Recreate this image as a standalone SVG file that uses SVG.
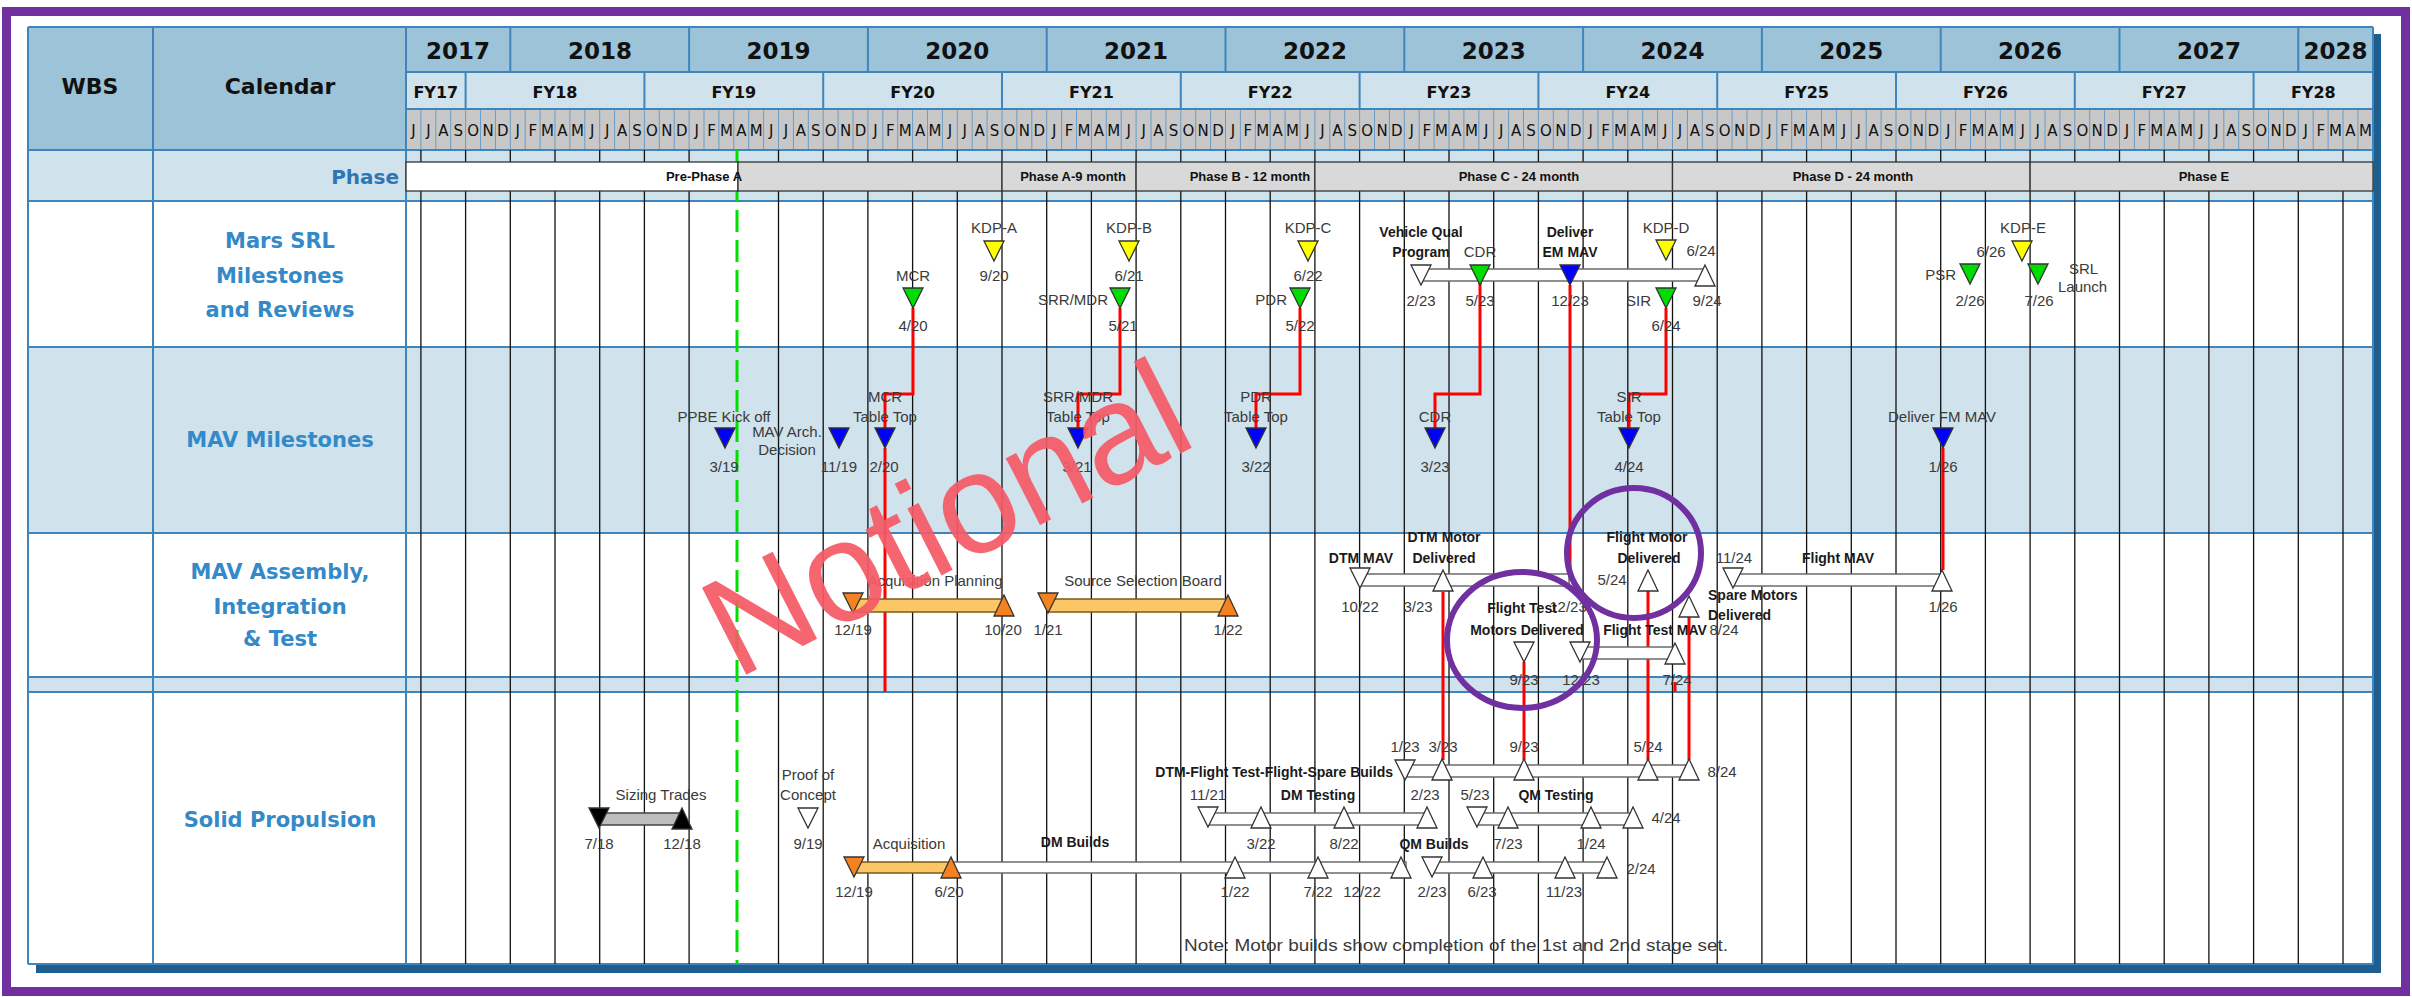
<svg xmlns="http://www.w3.org/2000/svg" width="2412" height="997" viewBox="0 0 2412 997">
<defs>
<style>
text{font-family:"Liberation Sans",Arial,sans-serif}
.h{font-family:"DejaVu Sans",sans-serif;font-weight:bold;fill:#111;text-anchor:middle}
.yr{font-size:23px}
.fy{font-size:16px}
.wb{font-size:22px}
.mo{font-family:"DejaVu Sans",sans-serif;font-size:15px;fill:#111;text-anchor:middle}
.rl{font-family:"DejaVu Sans",sans-serif;font-weight:bold;font-size:21px;fill:#3489C8;text-anchor:middle}
.phl{font-family:"DejaVu Sans",sans-serif;font-weight:bold;font-size:20px;fill:#2E75B6;text-anchor:end}
.pt{font-weight:bold;font-size:13px;fill:#111;text-anchor:middle}
.l{font-size:15px;fill:#3a3a3a;text-anchor:middle}
.b{font-weight:bold;font-size:14px;fill:#1a1a1a;text-anchor:middle}
.e{text-anchor:end}
.s{text-anchor:start}
.grid{stroke:#111;stroke-width:1.3;fill:none}
.sep{stroke:#6A9CC6;stroke-width:1;fill:none}
.bd{stroke:#3F85BC;stroke-width:2;fill:none}
.red{stroke:#FF0000;stroke-width:3;fill:none}
.bar{fill:#fff;stroke:#6b6b6b;stroke-width:1.5}
.obar{fill:#FBC766;stroke:#7a5a1a;stroke-width:1.5}
.gbar{fill:#BDBDBD;stroke:#444;stroke-width:1.5}
.tri{stroke:#333;stroke-width:1.3}
.w{fill:#fff}
.y{fill:#FFFF00}
.g{fill:#00DD00}
.bl{fill:#0000FF}
.o{fill:#F58220}
.k{fill:#000}
.circ{fill:none;stroke:#7030A0;stroke-width:6}
.ph{stroke:#333;stroke-width:1.3}
</style>
<path id="dn" d="M-10,0H10L0,20Z"/>
<path id="up" d="M0,0L10,21H-10Z"/>
</defs>

<rect width="2412" height="997" fill="#fff"/>

<g id="table">
<rect x="36" y="964" width="2345" height="9" fill="#1F5F8F"/>
<rect x="2373" y="34" width="8" height="939" fill="#1F5F8F"/>
<rect x="28" y="27" width="378" height="123" fill="#9DC3D9"/>
<rect x="406" y="27" width="1967" height="45" fill="#9DC3D9"/>
<rect x="406" y="72" width="1967" height="37" fill="#D0E2EC"/>
<rect x="406" y="109" width="1967" height="41" fill="#C8C8C8"/>
<rect x="28" y="150" width="2345" height="51" fill="#D0E2EC"/>
<rect x="28" y="201" width="2345" height="146" fill="#fff"/>
<rect x="28" y="347" width="2345" height="186" fill="#D0E2EC"/>
<rect x="28" y="533" width="2345" height="144" fill="#fff"/>
<rect x="28" y="677" width="2345" height="15" fill="#D0E2EC"/>
<rect x="28" y="692" width="2345" height="272" fill="#fff"/>
<path class="sep" d="M420.9 109V150M435.8 109V150M450.7 109V150M465.6 109V150M480.5 109V150M495.4 109V150M510.3 109V150M525.2 109V150M540.1 109V150M555 109V150M569.9 109V150M584.8 109V150M599.7 109V150M614.6 109V150M629.5 109V150M644.4 109V150M659.3 109V150M674.2 109V150M689.1 109V150M704 109V150M718.9 109V150M733.8 109V150M748.7 109V150M763.6 109V150M778.5 109V150M793.4 109V150M808.3 109V150M823.2 109V150M838.1 109V150M853 109V150M867.9 109V150M882.8 109V150M897.7 109V150M912.6 109V150M927.5 109V150M942.4 109V150M957.3 109V150M972.2 109V150M987.1 109V150M1002 109V150M1016.9 109V150M1031.8 109V150M1046.7 109V150M1061.6 109V150M1076.5 109V150M1091.4 109V150M1106.3 109V150M1121.2 109V150M1136.1 109V150M1151 109V150M1165.9 109V150M1180.8 109V150M1195.7 109V150M1210.6 109V150M1225.5 109V150M1240.4 109V150M1255.3 109V150M1270.2 109V150M1285.1 109V150M1300 109V150M1314.9 109V150M1329.8 109V150M1344.7 109V150M1359.6 109V150M1374.5 109V150M1389.4 109V150M1404.3 109V150M1419.2 109V150M1434.1 109V150M1449 109V150M1463.9 109V150M1478.8 109V150M1493.7 109V150M1508.6 109V150M1523.5 109V150M1538.4 109V150M1553.3 109V150M1568.2 109V150M1583.1 109V150M1598 109V150M1612.9 109V150M1627.8 109V150M1642.7 109V150M1657.6 109V150M1672.5 109V150M1687.4 109V150M1702.3 109V150M1717.2 109V150M1732.1 109V150M1747 109V150M1761.9 109V150M1776.8 109V150M1791.7 109V150M1806.6 109V150M1821.5 109V150M1836.4 109V150M1851.3 109V150M1866.2 109V150M1881.1 109V150M1896 109V150M1910.9 109V150M1925.8 109V150M1940.7 109V150M1955.6 109V150M1970.5 109V150M1985.4 109V150M2000.3 109V150M2015.2 109V150M2030.1 109V150M2045 109V150M2059.9 109V150M2074.8 109V150M2089.7 109V150M2104.6 109V150M2119.5 109V150M2134.4 109V150M2149.3 109V150M2164.2 109V150M2179.1 109V150M2194 109V150M2208.9 109V150M2223.8 109V150M2238.7 109V150M2253.6 109V150M2268.5 109V150M2283.4 109V150M2298.3 109V150M2313.2 109V150M2328.1 109V150M2343 109V150M2357.9 109V150"/>
<path class="bd" d="M28 27H2373M406 72H2373M406 109H2373M28 150H2373M28 201H2373M28 347H2373M28 533H2373M28 677H2373M28 692H2373M28 964H2373M28 27V964M153 27V964M406 27V964M2373 27V964M510.3 27V72M689.1 27V72M867.9 27V72M1046.7 27V72M1225.5 27V72M1404.3 27V72M1583.1 27V72M1761.9 27V72M1940.7 27V72M2119.5 27V72M2298.3 27V72M465.6 72V109M644.4 72V109M823.2 72V109M1002 72V109M1180.8 72V109M1359.6 72V109M1538.4 72V109M1717.2 72V109M1896 72V109M2074.8 72V109M2253.6 72V109"/>
<text class="h wb" x="90" y="94">WBS</text>
<text class="h wb" x="280" y="94">Calendar</text>
<text class="h yr" x="458" y="59">2017</text>
<text class="h yr" x="600" y="59">2018</text>
<text class="h yr" x="778.5" y="59">2019</text>
<text class="h yr" x="957.3" y="59">2020</text>
<text class="h yr" x="1136.1" y="59">2021</text>
<text class="h yr" x="1314.9" y="59">2022</text>
<text class="h yr" x="1493.7" y="59">2023</text>
<text class="h yr" x="1672.5" y="59">2024</text>
<text class="h yr" x="1851.3" y="59">2025</text>
<text class="h yr" x="2030.1" y="59">2026</text>
<text class="h yr" x="2208.9" y="59">2027</text>
<text class="h yr" x="2335.6" y="59">2028</text>
<text class="h fy" x="435.8" y="98">FY17</text>
<text class="h fy" x="555" y="98">FY18</text>
<text class="h fy" x="733.8" y="98">FY19</text>
<text class="h fy" x="912.6" y="98">FY20</text>
<text class="h fy" x="1091.4" y="98">FY21</text>
<text class="h fy" x="1270.2" y="98">FY22</text>
<text class="h fy" x="1449" y="98">FY23</text>
<text class="h fy" x="1627.8" y="98">FY24</text>
<text class="h fy" x="1806.6" y="98">FY25</text>
<text class="h fy" x="1985.4" y="98">FY26</text>
<text class="h fy" x="2164.2" y="98">FY27</text>
<text class="h fy" x="2313.3" y="98">FY28</text>
<text class="mo" y="136" x="413.5 428.4 443.3 458.2 473.1 488 502.9 517.8 532.7 547.6 562.5 577.4 592.3 607.2 622.1 637 651.9 666.8 681.7 696.6 711.5 726.4 741.3 756.2 771.1 786 800.9 815.8 830.7 845.6 860.5 875.4 890.3 905.2 920.1 935 949.9 964.8 979.7 994.6 1009.5 1024.4 1039.3 1054.2 1069.1 1084 1098.9 1113.8 1128.7 1143.6 1158.5 1173.4 1188.3 1203.2 1218.1 1233 1247.9 1262.8 1277.7 1292.6 1307.5 1322.4 1337.3 1352.2 1367.1 1382 1396.9 1411.8 1426.7 1441.6 1456.5 1471.4 1486.3 1501.2 1516.1 1531 1545.9 1560.8 1575.7 1590.6 1605.5 1620.4 1635.3 1650.2 1665.1 1680 1694.9 1709.8 1724.7 1739.6 1754.5 1769.4 1784.3 1799.2 1814.1 1829 1843.9 1858.8 1873.7 1888.6 1903.5 1918.4 1933.3 1948.2 1963.1 1978 1992.9 2007.8 2022.7 2037.6 2052.5 2067.4 2082.3 2097.2 2112.1 2127 2141.9 2156.8 2171.7 2186.6 2201.5 2216.4 2231.3 2246.2 2261.1 2276 2290.9 2305.8 2320.7 2335.6 2350.5 2365.4">JJASOND<tspan>JFMAMJJASOND</tspan><tspan>JFMAMJJASOND</tspan><tspan>JFMAMJJASOND</tspan><tspan>JFMAMJJASOND</tspan><tspan>JFMAMJJASOND</tspan><tspan>JFMAMJJASOND</tspan><tspan>JFMAMJJASOND</tspan><tspan>JFMAMJJASOND</tspan><tspan>JFMAMJJASOND</tspan><tspan>JFMAMJJASOND</tspan>JFMAM</text>
<text class="phl" x="399" y="184">Phase</text>
<text class="rl" x="280" y="248">Mars SRL</text>
<text class="rl" x="280" y="283">Milestones</text>
<text class="rl" x="280" y="317">and Reviews</text>
<text class="rl" x="280" y="447">MAV Milestones</text>
<text class="rl" x="280" y="579">MAV Assembly,</text>
<text class="rl" x="280" y="614">Integration</text>
<text class="rl" x="280" y="646">&amp; Test</text>
<text class="rl" x="280" y="827">Solid Propulsion</text>
<path class="grid" d="M420.9 150V964M465.6 150V964M510.3 150V964M555 150V964M599.7 150V964M644.4 150V964M689.1 150V964M778.5 150V964M823.2 150V964M867.9 150V964M912.6 150V964M957.3 150V964M1002 150V964M1046.7 150V964M1091.4 150V964M1136.1 150V964M1180.8 150V964M1225.5 150V964M1270.2 150V964M1314.9 150V964M1359.6 150V964M1404.3 150V964M1449 150V964M1493.7 150V964M1538.4 150V964M1583.1 150V964M1627.8 150V964M1672.5 150V964M1717.2 150V964M1761.9 150V964M1806.6 150V964M1851.3 150V964M1896 150V964M1940.7 150V964M1985.4 150V964M2030.1 150V964M2074.8 150V964M2119.5 150V964M2164.2 150V964M2208.9 150V964M2253.6 150V964M2298.3 150V964M2343 150V964"/>
<line x1="737" y1="150" x2="737" y2="964" stroke="#00E000" stroke-width="3" stroke-dasharray="22 8"/>
</g>

<g id="phases">
<rect class="ph" x="406" y="162" width="332" height="29" fill="#fff"/>
<rect class="ph" x="738" y="162" width="264" height="29" fill="#D9D9D9"/>
<rect class="ph" x="1002" y="162" width="134.1" height="29" fill="#D9D9D9"/>
<rect class="ph" x="1136.1" y="162" width="178.8" height="29" fill="#D9D9D9"/>
<rect class="ph" x="1314.9" y="162" width="357.6" height="29" fill="#D9D9D9"/>
<rect class="ph" x="1672.5" y="162" width="357.6" height="29" fill="#D9D9D9"/>
<rect class="ph" x="2030.1" y="162" width="342.9" height="29" fill="#D9D9D9"/>
<text class="pt" x="704" y="181">Pre-Phase A</text>
<text class="pt" x="1073" y="181">Phase A-9 month</text>
<text class="pt" x="1250" y="181">Phase B - 12 month</text>
<text class="pt" x="1519" y="181">Phase C - 24 month</text>
<text class="pt" x="1853" y="181">Phase D - 24 month</text>
<text class="pt" x="2204" y="181">Phase E</text>
</g>

<g id="connectors">
<path class="red" d="M913 308V394H885V428"/>
<path class="red" d="M885 448V692"/>
<path class="red" d="M1120 308V394H1078V428"/>
<path class="red" d="M1300 308V394H1256V428"/>
<path class="red" d="M1480 283V394H1435V428"/>
<path class="red" d="M1570 285V580"/>
<path class="red" d="M1666 308V394H1629V428"/>
<path class="red" d="M1943 448V570"/>
<path class="red" d="M1443 760V592"/>
<path class="red" d="M1524 760V662"/>
<path class="red" d="M1648 760V591"/>
<path class="red" d="M1689 760V617"/>
<path class="red" d="M1675 682V692"/>
</g>

<g id="mars-srl">
<g id="kdp-a"><text class="l" x="994" y="233">KDP-A</text><use href="#dn" x="994" y="241" class="tri y"/><text class="l" x="994" y="281">9/20</text></g>
<g id="mcr"><text class="l" x="913" y="281">MCR</text><use href="#dn" x="913" y="288" class="tri g"/><text class="l" x="913" y="331">4/20</text></g>
<g id="kdp-b"><text class="l" x="1129" y="233">KDP-B</text><use href="#dn" x="1129" y="241" class="tri y"/><text class="l" x="1129" y="281">6/21</text></g>
<g id="srr-mdr"><text class="l e" x="1108" y="305">SRR/MDR</text><use href="#dn" x="1120" y="288" class="tri g"/><text class="l" x="1123" y="331">5/21</text></g>
<g id="kdp-c"><text class="l" x="1308" y="233">KDP-C</text><use href="#dn" x="1308" y="241" class="tri y"/><text class="l" x="1308" y="281">6/22</text></g>
<g id="pdr"><text class="l e" x="1287" y="305">PDR</text><use href="#dn" x="1300" y="288" class="tri g"/><text class="l" x="1300" y="331">5/22</text></g>
<g id="vehicle-qual"><text class="b" x="1421" y="237">Vehicle Qual</text><text class="b" x="1421" y="257">Program</text><rect class="bar" x="1421" y="269" width="284" height="12"/><use href="#dn" x="1421" y="265" class="tri w"/><use href="#up" x="1705" y="265" class="tri w"/><text class="l" x="1421" y="306">2/23</text><text class="l" x="1707" y="306">9/24</text></g>
<g id="cdr"><text class="l" x="1480" y="257">CDR</text><use href="#dn" x="1480" y="265" class="tri g"/><text class="l" x="1480" y="306">5/23</text></g>
<g id="em-mav"><text class="b" x="1570" y="237">Deliver</text><text class="b" x="1570" y="257">EM MAV</text><use href="#dn" x="1570" y="265" class="tri bl"/><text class="l" x="1570" y="306">12/23</text></g>
<g id="kdp-d"><text class="l" x="1666" y="233">KDP-D</text><use href="#dn" x="1666" y="240" class="tri y"/><text class="l" x="1701" y="256">6/24</text></g>
<g id="sir"><text class="l e" x="1651" y="306">SIR</text><use href="#dn" x="1666" y="288" class="tri g"/><text class="l" x="1666" y="331">6/24</text></g>
<g id="psr"><text class="l e" x="1956" y="280">PSR</text><use href="#dn" x="1970" y="264" class="tri g"/><text class="l" x="1970" y="306">2/26</text></g>
<g id="kdp-e"><text class="l" x="2023" y="233">KDP-E</text><use href="#dn" x="2022" y="241" class="tri y"/><text class="l" x="1991" y="257">6/26</text></g>
<g id="srl-launch"><use href="#dn" x="2038" y="264" class="tri g"/><text class="l" x="2039" y="306">7/26</text><text class="l s" x="2069" y="274">SRL</text><text class="l s" x="2058" y="292">Launch</text></g>
</g>

<g id="mav-milestones">
<g id="ppbe"><text class="l" x="724" y="422">PPBE Kick off</text><use href="#dn" x="725" y="428" class="tri bl"/><text class="l" x="724" y="472">3/19</text></g>
<g id="mav-arch"><text class="l" x="787" y="437">MAV Arch.</text><text class="l" x="787" y="455">Decision</text><use href="#dn" x="839" y="428" class="tri bl"/><text class="l" x="839" y="472">11/19</text></g>
<g id="mcr-tt"><text class="l" x="885" y="402">MCR</text><text class="l" x="885" y="422">Table Top</text><use href="#dn" x="885" y="428" class="tri bl"/><text class="l" x="884" y="472">2/20</text></g>
<g id="srr-tt"><text class="l" x="1078" y="402">SRR/MDR</text><text class="l" x="1078" y="422">Table Top</text><use href="#dn" x="1078" y="428" class="tri bl"/><text class="l" x="1077" y="472">3/21</text></g>
<g id="pdr-tt"><text class="l" x="1256" y="402">PDR</text><text class="l" x="1256" y="422">Table Top</text><use href="#dn" x="1256" y="428" class="tri bl"/><text class="l" x="1256" y="472">3/22</text></g>
<g id="cdr-mav"><text class="l" x="1435" y="422">CDR</text><use href="#dn" x="1435" y="428" class="tri bl"/><text class="l" x="1435" y="472">3/23</text></g>
<g id="sir-tt"><text class="l" x="1629" y="402">SIR</text><text class="l" x="1629" y="422">Table Top</text><use href="#dn" x="1629" y="428" class="tri bl"/><text class="l" x="1629" y="472">4/24</text></g>
<g id="fm-mav"><text class="l" x="1942" y="422">Deliver FM MAV</text><use href="#dn" x="1943" y="428" class="tri bl"/><text class="l" x="1943" y="472">1/26</text></g>
</g>

<g id="mav-ait">
<g id="acq-planning"><text class="l" x="935" y="586">Acquisition Planning</text><rect class="obar" x="853" y="599" width="151" height="13"/><use href="#dn" x="853" y="593" class="tri o"/><use href="#up" x="1004" y="595" class="tri o"/><text class="l" x="853" y="635">12/19</text><text class="l" x="1003" y="635">10/20</text></g>
<g id="ssb"><text class="l" x="1143" y="586">Source Selection Board</text><rect class="obar" x="1048" y="599" width="180" height="13"/><use href="#dn" x="1048" y="593" class="tri o"/><use href="#up" x="1228" y="595" class="tri o"/><text class="l" x="1048" y="635">1/21</text><text class="l" x="1228" y="635">1/22</text></g>
<g id="dtm-mav"><text class="b" x="1361" y="563">DTM MAV</text><rect class="bar" x="1360" y="574" width="209" height="12"/><use href="#dn" x="1360" y="568" class="tri w"/><text class="l" x="1360" y="612">10/22</text><text class="l" x="1568" y="612">12/23</text></g>
<g id="dtm-motor"><text class="b" x="1444" y="542">DTM Motor</text><text class="b" x="1444" y="563">Delivered</text><use href="#up" x="1443" y="570" class="tri w"/><text class="l" x="1418" y="612">3/23</text></g>
<g id="ft-motors"><text class="b" x="1522" y="613">Flight Test</text><text class="b" x="1527" y="635">Motors Delivered</text><use href="#dn" x="1524" y="642" class="tri w"/><text class="l" x="1524" y="685">9/23</text></g>
<g id="ft-mav"><text class="b" x="1655" y="635">Flight Test MAV</text><rect class="bar" x="1580" y="647" width="95" height="12"/><use href="#dn" x="1580" y="642" class="tri w"/><use href="#up" x="1675" y="643" class="tri w"/><text class="l" x="1581" y="685">12/23</text><text class="l" x="1677" y="685">7/24</text></g>
<g id="flight-motor"><text class="b" x="1647" y="542">Flight Motor</text><text class="b" x="1649" y="563">Delivered</text><use href="#up" x="1648" y="570" class="tri w"/><text class="l" x="1612" y="585">5/24</text></g>
<g id="spare-motors"><use href="#up" x="1689" y="596" class="tri w"/><text class="b s" x="1708" y="600">Spare Motors</text><text class="b s" x="1708" y="620">Delivered</text><text class="l" x="1724" y="635">8/24</text></g>
<g id="flight-mav"><text class="l" x="1734" y="563">11/24</text><text class="b" x="1838" y="563">Flight MAV</text><rect class="bar" x="1733" y="574" width="209" height="12"/><use href="#dn" x="1733" y="568" class="tri w"/><use href="#up" x="1942" y="570" class="tri w"/><text class="l" x="1943" y="612">1/26</text></g>
</g>

<g id="solid-propulsion">
<g id="sizing"><text class="l" x="661" y="800">Sizing Trades</text><rect class="gbar" x="599" y="813" width="83" height="12"/><use href="#dn" x="599" y="808" class="tri k"/><use href="#up" x="682" y="808" class="tri k"/><text class="l" x="599" y="849">7/18</text><text class="l" x="682" y="849">12/18</text></g>
<g id="poc"><text class="l" x="808" y="780">Proof of</text><text class="l" x="808" y="800">Concept</text><use href="#dn" x="808" y="808" class="tri w"/><text class="l" x="808" y="849">9/19</text></g>
<g id="acquisition"><text class="l" x="909" y="849">Acquisition</text><rect class="obar" x="854" y="862" width="97" height="11"/><use href="#dn" x="854" y="857" class="tri o"/><text class="l" x="854" y="897">12/19</text><text class="l" x="949" y="897">6/20</text></g>
<g id="dm-builds"><text class="b" x="1075" y="847">DM Builds</text><rect class="bar" x="951" y="862" width="455" height="11"/><use href="#up" x="951" y="857" class="tri o"/><use href="#up" x="1235" y="857" class="tri w"/><use href="#up" x="1318" y="857" class="tri w"/><use href="#up" x="1401" y="857" class="tri w"/><text class="l" x="1235" y="897">1/22</text><text class="l" x="1318" y="897">7/22</text><text class="l" x="1362" y="897">12/22</text></g>
<g id="qm-builds"><text class="b" x="1434" y="849">QM Builds</text><rect class="bar" x="1432" y="862" width="176" height="11"/><use href="#dn" x="1432" y="857" class="tri w"/><use href="#up" x="1483" y="857" class="tri w"/><use href="#up" x="1565" y="857" class="tri w"/><use href="#up" x="1607" y="857" class="tri w"/><text class="l" x="1432" y="897">2/23</text><text class="l" x="1482" y="897">6/23</text><text class="l" x="1564" y="897">11/23</text><text class="l" x="1641" y="874">2/24</text></g>
<g id="dm-testing"><text class="l" x="1208" y="800">11/21</text><text class="b" x="1318" y="800">DM Testing</text><rect class="bar" x="1208" y="813" width="219" height="12"/><use href="#dn" x="1208" y="807" class="tri w"/><use href="#up" x="1261" y="807" class="tri w"/><use href="#up" x="1344" y="807" class="tri w"/><use href="#up" x="1427" y="807" class="tri w"/><text class="l" x="1261" y="849">3/22</text><text class="l" x="1344" y="849">8/22</text><text class="l" x="1425" y="800">2/23</text></g>
<g id="qm-testing"><text class="l" x="1475" y="800">5/23</text><text class="b" x="1556" y="800">QM Testing</text><rect class="bar" x="1477" y="813" width="156" height="12"/><use href="#dn" x="1477" y="807" class="tri w"/><use href="#up" x="1508" y="807" class="tri w"/><use href="#up" x="1591" y="807" class="tri w"/><use href="#up" x="1633" y="807" class="tri w"/><text class="l" x="1508" y="849">7/23</text><text class="l" x="1591" y="849">1/24</text><text class="l" x="1666" y="823">4/24</text></g>
<g id="dtm-builds"><text class="b e" x="1393" y="777">DTM-Flight Test-Flight-Spare Builds</text><rect class="bar" x="1405" y="765" width="286" height="12"/><use href="#dn" x="1405" y="760" class="tri w"/><use href="#up" x="1442" y="759" class="tri w"/><use href="#up" x="1524" y="759" class="tri w"/><use href="#up" x="1648" y="759" class="tri w"/><use href="#up" x="1689" y="759" class="tri w"/><text class="l" x="1405" y="752">1/23</text><text class="l" x="1443" y="752">3/23</text><text class="l" x="1524" y="752">9/23</text><text class="l" x="1648" y="752">5/24</text><text class="l" x="1722" y="777">8/24</text></g>
<text id="note" class="l" x="1456" y="951" style="font-size:17px" textLength="544" lengthAdjust="spacingAndGlyphs">Note: Motor builds show completion of the 1st and 2nd stage set.</text>
</g>

<text id="notional" x="736" y="680" transform="rotate(-27 736 680)" font-size="142" fill="#F45A66" fill-opacity="0.93">Notional</text>

<g id="annotations">
<ellipse class="circ" cx="1634" cy="553" rx="67" ry="65"/>
<ellipse class="circ" cx="1522" cy="640" rx="75" ry="68"/>
</g>

<rect x="6.5" y="11.5" width="2399" height="980" fill="none" stroke="#7030A0" stroke-width="9"/>
</svg>
